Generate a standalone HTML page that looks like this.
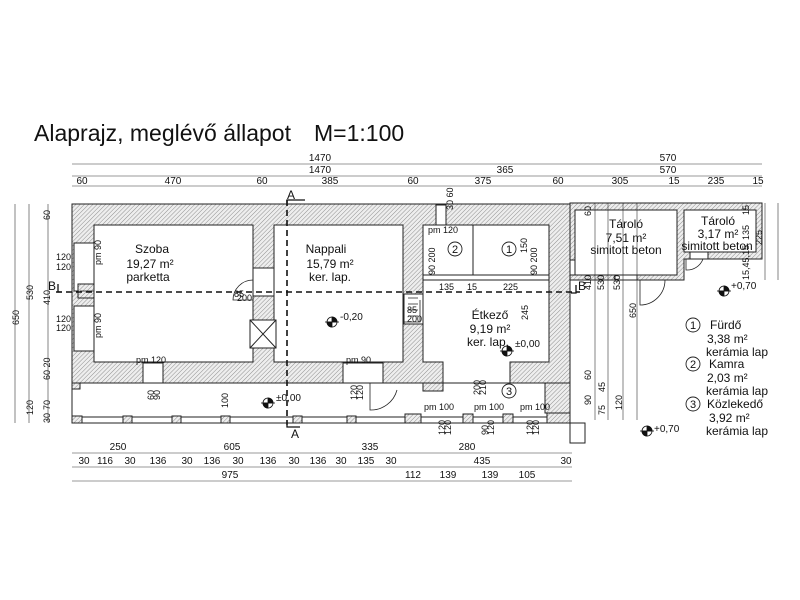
<!DOCTYPE html>
<html><head><meta charset="utf-8"><style>
html,body{margin:0;padding:0;background:#fff;}
svg{display:block;font-family:"Liberation Sans",sans-serif;}
</style></head><body>
<svg width="800" height="600" viewBox="0 0 800 600" xmlns="http://www.w3.org/2000/svg">
<defs>
<pattern id="h" width="3" height="3" patternUnits="userSpaceOnUse" patternTransform="rotate(45)">
<rect width="3" height="3" fill="#eee"/><line x1="0" y1="0" x2="0" y2="3" stroke="#777" stroke-width="0.8"/></pattern>
</defs>
<rect width="800" height="600" fill="#fff"/>
<text x="34" y="141" font-size="23" fill="#111">Alaprajz, meglévő állapot</text>
<text x="314" y="141" font-size="23" fill="#111">M=1:100</text>

<g stroke="#222" stroke-width="1">
<path fill="url(#h)" fill-rule="evenodd" d="M72 204 H570 V383 H72 Z M94 225 H253 V362 H94 Z M274 225 H403 V362 H274 Z M423 225 H549 V362 H510 V383 H443 V362 H423 Z"/>
<rect x="423" y="275" width="126" height="5" fill="#fff"/>
<line x1="473" y1="225" x2="473" y2="275"/>
<rect x="72" y="383" width="498" height="40" fill="#fff"/>
<rect x="72" y="417" width="498" height="6" fill="#fff"/>
<g fill="url(#h)">
<rect x="72" y="383" width="8" height="6"/><rect x="72" y="416" width="10" height="7"/>
<rect x="123" y="416" width="9" height="7"/><rect x="172" y="416" width="9" height="7"/>
<rect x="221" y="416" width="9" height="7"/><rect x="293" y="416" width="9" height="7"/>
<rect x="347" y="416" width="9" height="7"/><rect x="405" y="414" width="16" height="9"/>
<rect x="463" y="414" width="10" height="9"/><rect x="503" y="414" width="10" height="9"/>
<rect x="547" y="410" width="23" height="13"/>
<rect x="423" y="383" width="20" height="8"/><rect x="545" y="383" width="25" height="30"/>
</g>
<rect x="570" y="423" width="15" height="20" fill="#fff"/>
<g fill="#fff">
<rect x="74" y="243" width="20" height="48"/><rect x="74" y="306" width="20" height="45"/>
<rect x="143" y="363" width="20" height="20"/><rect x="343" y="363" width="40" height="20"/>
<rect x="253" y="268" width="21" height="28"/><rect x="404" y="294" width="19" height="30"/>
<rect x="436" y="205" width="10" height="20"/>
<rect x="78" y="284" width="16" height="14" fill="url(#h)"/>
</g>
<rect x="250" y="320" width="26" height="28" fill="#fff"/>
<path d="M250 320 L276 348 M276 320 L250 348" fill="none"/>
<path fill="url(#h)" fill-rule="evenodd" d="M570 203 H762 V259 H684 V280 H570 Z M575 210 H677 V275 H575 Z M684 210 H756 V252 H684 Z"/>
<rect x="615" y="275" width="22" height="5" fill="#fff"/>
<rect x="690" y="252" width="18" height="7" fill="#fff"/>
<rect x="570" y="260" width="5" height="15" fill="#fff"/>
</g>

<g fill="none" stroke="#222" stroke-width="0.8">
<path d="M253 280 A20 20 0 0 0 233 300 L253 300"/>
<path d="M404 294 V322 H420 V300"/>
<path d="M408 298 H418 M408 304 H418 M408 310 H418 M408 316 H418"/>
<path d="M370 383 V410 A27 27 0 0 0 397 390"/>
<path d="M640 280 V305 A25 25 0 0 0 665 280"/>
<path d="M686 259 V270 A17 17 0 0 0 703 259"/>
<line x1="80" y1="291" x2="94" y2="291"/>
</g>

<g stroke="#111" stroke-width="1.6" stroke-dasharray="6,4" fill="none">
<line x1="56" y1="292" x2="580" y2="292"/>
<line x1="287" y1="200" x2="287" y2="425"/>
</g>
<g stroke="#111" stroke-width="1.3" fill="none">
<path d="M58 284 V292 H62"/><path d="M576 285 V293 H571"/>
<path d="M287 203 V200 H305"/><path d="M287 425 V427 H300"/>
</g>
<g font-size="12" fill="#111">
<text x="48" y="290">B</text><text x="578" y="290">B</text>
<text x="287" y="199">A</text><text x="291" y="438">A</text>
</g>

<g font-size="12" fill="#111" text-anchor="middle">
<text x="152" y="253">Szoba</text><text x="150" y="268">19,27 m²</text><text x="148" y="281">parketta</text>
<text x="326" y="253">Nappali</text><text x="330" y="268">15,79 m²</text><text x="330" y="281">ker. lap.</text>
<text x="490" y="319">Étkező</text><text x="490" y="333">9,19 m²</text><text x="488" y="346">ker. lap.</text>
<text x="626" y="228">Tároló</text><text x="626" y="242">7,51 m²</text><text x="626" y="254">simitott beton</text>
<text x="718" y="225">Tároló</text><text x="718" y="238">3,17 m²</text><text x="717" y="250">simitott beton</text>
</g>
<g fill="none" stroke="#222" stroke-width="0.9">
<circle cx="455" cy="249" r="7"/><circle cx="509" cy="249" r="7"/><circle cx="509" cy="391" r="7"/>
<circle cx="693" cy="325" r="7"/><circle cx="693" cy="364" r="7"/><circle cx="693" cy="404" r="7"/>
</g>
<g font-size="11" text-anchor="middle" fill="#111">
<text x="455" y="253">2</text><text x="509" y="253">1</text><text x="509" y="395">3</text>
<text x="693" y="329">1</text><text x="693" y="368">2</text><text x="693" y="408">3</text>
</g>
<g font-size="12" fill="#111">
<text x="710" y="329">Fürdő</text><text x="707" y="343">3,38 m²</text><text x="706" y="356">kerámia lap</text>
<text x="709" y="368">Kamra</text><text x="707" y="382">2,03 m²</text><text x="706" y="395">kerámia lap</text>
<text x="707" y="408">Közlekedő</text><text x="709" y="422">3,92 m²</text><text x="706" y="435">kerámia lap</text>
</g>

<g stroke="#111" stroke-width="0.8">
<g transform="translate(332,322)"><circle r="5" fill="#fff"/><path d="M0 0 V-5 A5 5 0 0 1 5 0 Z M0 0 V5 A5 5 0 0 1 -5 0Z" fill="#111"/><line x1="-7" y1="0" x2="7" y2="0"/></g>
<g transform="translate(268,403)"><circle r="5" fill="#fff"/><path d="M0 0 V-5 A5 5 0 0 1 5 0 Z M0 0 V5 A5 5 0 0 1 -5 0Z" fill="#111"/><line x1="-7" y1="0" x2="7" y2="0"/></g>
<g transform="translate(507,351)"><circle r="5" fill="#fff"/><path d="M0 0 V-5 A5 5 0 0 1 5 0 Z M0 0 V5 A5 5 0 0 1 -5 0Z" fill="#111"/><line x1="-7" y1="0" x2="7" y2="0"/></g>
<g transform="translate(724,291)"><circle r="5" fill="#fff"/><path d="M0 0 V-5 A5 5 0 0 1 5 0 Z M0 0 V5 A5 5 0 0 1 -5 0Z" fill="#111"/><line x1="-7" y1="0" x2="7" y2="0"/></g>
<g transform="translate(647,431)"><circle r="5" fill="#fff"/><path d="M0 0 V-5 A5 5 0 0 1 5 0 Z M0 0 V5 A5 5 0 0 1 -5 0Z" fill="#111"/><line x1="-7" y1="0" x2="7" y2="0"/></g>
</g>
<g font-size="10" fill="#111">
<text x="340" y="320">-0,20</text><text x="276" y="401">±0,00</text><text x="515" y="347">±0,00</text>
<text x="731" y="289">+0,70</text><text x="654" y="432">+0,70</text>
</g>

<g font-size="9" fill="#111">
<text x="136" y="363">pm 120</text><text x="346" y="363">pm 90</text>
<text x="428" y="233">pm 120</text>
<text x="234" y="297">85</text><text x="237" y="301">200</text>
<text x="407" y="313">85</text><text x="407" y="322">200</text>
<text x="439" y="290">135</text><text x="467" y="290">15</text><text x="503" y="290">225</text>
<text x="424" y="410">pm 100</text><text x="474" y="410">pm 100</text><text x="520" y="410">pm 100</text>
<text x="56" y="260">120</text><text x="56" y="270">120</text>
<text x="56" y="322">120</text><text x="56" y="331">120</text>
</g>
<g font-size="9" fill="#111">
<text transform="translate(101,265) rotate(-90)">pm 90</text>
<text transform="translate(101,338) rotate(-90)">pm 90</text>
<text transform="translate(228,408) rotate(-90)">100</text>
<text transform="translate(154,400) rotate(-90)">60</text>
<text transform="translate(160,400) rotate(-90)">90</text>
<text transform="translate(357,400) rotate(-90)">120</text>
<text transform="translate(363,400) rotate(-90)">120</text>
<text transform="translate(480,395) rotate(-90)">200</text>
<text transform="translate(486,395) rotate(-90)">210</text>
<text transform="translate(528,320) rotate(-90)">245</text>
<text transform="translate(527,253) rotate(-90)">150</text>
<text transform="translate(591,216) rotate(-90)">60</text>
<text transform="translate(591,290) rotate(-90)">410</text>
<text transform="translate(604,290) rotate(-90)">530</text>
<text transform="translate(620,290) rotate(-90)">530</text>
<text transform="translate(636,318) rotate(-90)">650</text>
<text transform="translate(591,380) rotate(-90)">60</text>
<text transform="translate(591,405) rotate(-90)">90</text>
<text transform="translate(605,392) rotate(-90)">45</text>
<text transform="translate(605,415) rotate(-90)">75</text>
<text transform="translate(622,410) rotate(-90)">120</text>
<text transform="translate(749,215) rotate(-90)">15</text>
<text transform="translate(749,240) rotate(-90)">135</text>
<text transform="translate(762,245) rotate(-90)">225</text>
<text transform="translate(749,280) rotate(-90)">15,45,15</text>
<text transform="translate(50,220) rotate(-90)">60</text>
<text transform="translate(50,305) rotate(-90)">410</text>
<text transform="translate(50,380) rotate(-90)">60 20</text>
<text transform="translate(50,410) rotate(-90)">70</text>
<text transform="translate(50,423) rotate(-90)">30</text>
<text transform="translate(33,300) rotate(-90)">530</text>
<text transform="translate(33,415) rotate(-90)">120</text>
<text transform="translate(19,325) rotate(-90)">650</text>
<text transform="translate(453,210) rotate(-90)">30 60</text>
<text transform="translate(435,275) rotate(-90)">90 200</text>
<text transform="translate(537,275) rotate(-90)">90 200</text>
<text transform="translate(445,435) rotate(-90)">120</text>
<text transform="translate(451,435) rotate(-90)">120</text>
<text transform="translate(488,435) rotate(-90)">90</text>
<text transform="translate(494,435) rotate(-90)">120</text>
<text transform="translate(533,435) rotate(-90)">120</text>
<text transform="translate(539,435) rotate(-90)">120</text>
</g>

<g stroke="#333" stroke-width="0.6">
<line x1="15" y1="204" x2="15" y2="423"/>
<line x1="29" y1="204" x2="29" y2="423"/>
<line x1="48" y1="204" x2="48" y2="423"/>
<line x1="595" y1="203" x2="595" y2="420"/><line x1="608" y1="203" x2="608" y2="420"/>
<line x1="623" y1="203" x2="623" y2="420"/><line x1="637" y1="203" x2="637" y2="420"/>
<line x1="765" y1="203" x2="765" y2="280"/><line x1="778" y1="203" x2="778" y2="280"/>
</g>

<g stroke="#333" stroke-width="0.6">
<line x1="72" y1="164" x2="762" y2="164"/>
<line x1="72" y1="176" x2="762" y2="176"/>
<line x1="72" y1="186" x2="762" y2="186"/>
<line x1="72" y1="453" x2="572" y2="453"/>
<line x1="72" y1="467" x2="572" y2="467"/>
<line x1="72" y1="481" x2="572" y2="481"/>
</g>
<g font-size="10" fill="#111" text-anchor="middle">
<text x="320" y="161">1470</text><text x="320" y="173">1470</text>
<text x="668" y="161">570</text><text x="668" y="173">570</text>
<text x="505" y="173">365</text>
<text x="82" y="184">60</text><text x="173" y="184">470</text><text x="262" y="184">60</text>
<text x="330" y="184">385</text><text x="413" y="184">60</text><text x="483" y="184">375</text>
<text x="558" y="184">60</text><text x="620" y="184">305</text><text x="674" y="184">15</text>
<text x="716" y="184">235</text><text x="758" y="184">15</text>
<text x="118" y="450">250</text><text x="232" y="450">605</text><text x="370" y="450">335</text><text x="467" y="450">280</text>
<text x="84" y="464">30</text><text x="105" y="464">116</text><text x="130" y="464">30</text>
<text x="158" y="464">136</text><text x="187" y="464">30</text><text x="212" y="464">136</text>
<text x="238" y="464">30</text><text x="268" y="464">136</text><text x="294" y="464">30</text>
<text x="318" y="464">136</text><text x="341" y="464">30</text><text x="366" y="464">135</text>
<text x="391" y="464">30</text><text x="482" y="464">435</text><text x="566" y="464">30</text>
<text x="230" y="478">975</text><text x="413" y="478">112</text><text x="448" y="478">139</text>
<text x="490" y="478">139</text><text x="527" y="478">105</text>
</g>
</svg>
</body></html>
